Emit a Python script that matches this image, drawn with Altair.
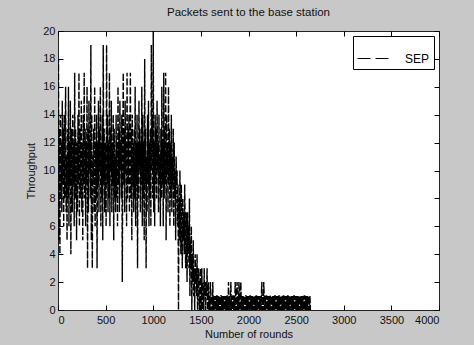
import altair as alt
import pandas as pd

throughput = [
    10, 18, 5, 13, 4, 14, 8, 12, 7, 15, 9, 13, 6, 14, 8, 12, 16, 7, 11, 5,
    13, 8, 16, 6, 12, 9, 15, 4, 11, 13, 7, 14, 9, 12, 6, 17, 8, 13, 10, 5,
    12, 7, 14, 9, 17, 6, 13, 8, 11, 15, 7, 12, 5, 14, 9, 17, 8, 13, 6, 12,
    9, 16, 3, 13, 7, 15, 10, 12, 8, 19, 5, 14, 3, 11, 9, 13, 7, 16, 6, 12,
    8, 14, 3, 12, 9, 15, 7, 13, 10, 16, 6, 12, 8, 14, 5, 19, 9, 13, 7, 11,
    12, 6, 19, 9, 14, 7, 12, 8, 17, 6, 13, 10, 15, 7, 12, 9, 14, 5, 13, 8,
    11, 7, 14, 8, 12, 6, 16, 9, 13, 7, 15, 10, 12, 8, 14, 2, 11, 17, 9, 13,
    7, 15, 10, 12, 6, 17, 8, 13, 9, 14, 7, 12, 17, 8, 13, 5, 14, 9, 12, 7,
    13, 8, 16, 6, 12, 9, 14, 3, 12, 8, 15, 10, 13, 7, 12, 9, 16, 6, 14, 8,
    12, 5, 18, 9, 13, 3, 11, 7, 14, 9, 15, 6, 12, 8, 13, 6, 19, 10, 14, 8,
    20, 7, 12, 6, 14, 9, 13, 8, 15, 10, 12, 7, 14, 9, 11, 6, 13, 8, 16, 9,
    12, 6, 17, 8, 13, 9, 17, 5, 14, 10, 12, 7, 16, 9, 13, 6, 12, 8, 14, 7,
    11, 9, 13, 6, 12, 8, 10, 5, 11, 9,
    10, 6, 9, 0, 8, 5, 10, 7, 4, 9, 6, 3, 8, 5, 7, 4, 9, 6, 3, 7,
    5, 2, 7, 4, 6, 3, 8, 1, 5, 3, 6, 0, 4, 2, 5, 1, 3, 0, 4, 2,
    3, 1, 4, 0, 2, 3, 1, 0, 2, 3, 0, 1, 3, 0, 2, 1, 0, 3, 1, 2,
    0, 2, 1, 3, 0, 1, 2, 0, 1, 0, 2, 1, 0, 1, 0, 2, 0, 1, 0, 1,
    0, 1, 0, 1, 1, 0, 1, 0, 1, 0, 1, 0, 1, 1, 0, 1, 0, 1, 0, 1,
    0, 1, 0, 1, 0, 1, 1, 0, 2, 0, 1, 0, 1, 2, 0, 1, 0, 1, 1, 0,
    1, 0, 2, 1, 0, 1, 2, 0, 1, 0, 2, 1, 0, 1, 2, 0, 1, 0, 1, 0,
    1, 0, 1, 0, 1, 1, 0, 1, 0, 1, 0, 1, 0, 1, 1, 0, 1, 0, 1, 0,
    1, 0, 1, 0, 1, 0, 1, 1, 0, 1, 0, 1, 0, 1, 0, 1, 0, 1, 2, 0,
    1, 0, 2, 1, 0, 1, 0, 1, 1, 0, 1, 0, 1, 0, 1, 0, 1, 1, 0, 1,
    0, 1, 0, 1, 0, 1, 1, 0, 1, 0, 1, 0, 1, 0, 1, 1, 0, 1, 0, 1,
    0, 1, 0, 1, 1, 0, 1, 0, 1, 0, 1, 0, 1, 1, 0, 1, 0, 1, 0, 1,
    0, 1, 0, 1, 0, 1, 1, 0, 1, 0, 1, 0, 1, 0, 1, 0, 1, 1, 0, 1,
    0, 1, 0, 1, 0, 1, 0, 1, 1, 0, 1, 0, 1, 0, 1, 0, 1, 1, 0, 1,
    0,
]
rounds = [i * 5 for i in range(len(throughput))]
series = ["SEP"] * len(throughput)

x_ticks = [0, 500, 1000, 1500, 2000, 2500, 3000, 3500, 4000]
y_ticks = [0, 2, 4, 6, 8, 10, 12, 14, 16, 18, 20]

df = pd.DataFrame({"round": rounds, "throughput": throughput, "series": series})

FONT = "Liberation Sans"
xscale = alt.Scale(domain=[0, 4000], nice=False, zero=False)
yscale = alt.Scale(domain=[0, 20], nice=False)

common_axis = dict(grid=False, domain=False, tickSize=5, offset=-5,
                   tickColor="#000", labelFont=FONT, titleFont=FONT,
                   labelFontSize=11, titleFontSize=11, labelColor="#111",
                   titleColor="#111", titleFontWeight="normal", format="d")

base = alt.Chart(df)

line = base.mark_line(strokeDash=[7, 2], strokeWidth=1.4, clip=True).encode(
    x=alt.X("round:Q", scale=xscale,
            axis=alt.Axis(orient="bottom", title="Number of rounds", values=x_ticks,
                          labelPadding=4, titlePadding=3, **common_axis)),
    y=alt.Y("throughput:Q", scale=yscale,
            axis=alt.Axis(orient="left", title="Throughput", values=y_ticks,
                          labelPadding=3, titlePadding=6, **common_axis)),
    color=alt.Color("series:N", scale=alt.Scale(range=["#000000"]),
                    legend=alt.Legend(title=None, orient="top-right", offset=5,
                                      fillColor="white", strokeColor="#000",
                                      padding=4, symbolType="stroke",
                                      symbolSize=1296, symbolStrokeWidth=1,
                                      symbolDash=[13, 5], symbolStrokeColor="#000",
                                      labelFont=FONT, labelFontSize=12,
                                      labelColor="#000", labelOffset=11)),
    order="round:Q",
)

frame = base.mark_line(opacity=0).encode(
    x=alt.X("round:Q", scale=xscale,
            axis=alt.Axis(orient="top", title=None, labels=False, values=x_ticks,
                          **common_axis)),
    y=alt.Y("throughput:Q", scale=yscale,
            axis=alt.Axis(orient="right", title=None, labels=False, values=y_ticks,
                          **common_axis)),
)

chart = alt.layer(line, frame).resolve_axis(x="independent", y="independent").properties(
    width=381, height=279,
    title=alt.TitleParams("Packets sent to the base station", font=FONT, fontSize=11.5,
                          fontWeight="normal", color="#111", offset=7, anchor="middle"),
    background="#c8c8c8",
    padding={"left": 58, "top": 31, "right": 35, "bottom": 35},
    autosize=alt.AutoSizeParams(type="none"),
).configure_view(fill="white", stroke="#222", strokeWidth=1)

chart.save("out.html", embed_options={"renderer": "svg", "actions": False})
